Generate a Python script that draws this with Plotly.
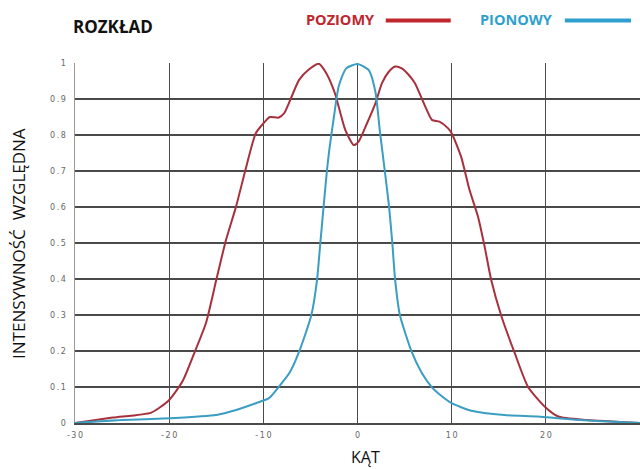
import plotly.graph_objects as go

# ---- data ----
red_x = [-30, -26, -21.9, -20, -18.6, -17.4, -16.1, -15.0, -14.0, -12.9, -11.9, -10.8, -10.0, -9.3,
         -8.4, -7.8, -7.1, -6.2, -5.2, -4.1, -3.3, -2.4, -1.3, -0.4, 0.1, 1.0, 1.9, 2.6, 3.3, 4.0,
         4.7, 5.4, 6.1, 7.2, 7.9, 8.7, 9.6, 10.0, 11.0, 11.9, 12.8, 13.5, 14.2, 15.3, 16.7, 18.1,
         19.9, 21.3, 24.4, 30]
red_y = [0, 0.015, 0.029, 0.064, 0.115, 0.19, 0.277, 0.397, 0.505, 0.601, 0.703, 0.805, 0.832, 0.85,
         0.848, 0.86, 0.9, 0.953, 0.981, 0.998, 0.971, 0.916, 0.814, 0.772, 0.781, 0.832, 0.888, 0.944, 0.975, 0.99,
         0.985, 0.968, 0.944, 0.879, 0.842, 0.837, 0.819, 0.805, 0.74, 0.647, 0.573, 0.49, 0.397, 0.295, 0.194, 0.101,
         0.045, 0.018, 0.008, 0.0]

blue_x = [-30, -25, -20, -15, -12.9, -10.8, -9.4, -8.4, -7.2, -6.2, -4.9, -4.3, -3.95, -3.6, -3.25, -3.0,
          -2.5, -2.0, -1.2, 0, 1.2, 1.9, 2.4, 2.9, 3.35, 3.7, 4.0, 4.5, 5.75, 6.8, 7.9, 8.6, 10, 12.1,
          15.6, 19.2, 21.3, 25, 30]
blue_y = [0, 0.008, 0.013, 0.022, 0.036, 0.055, 0.069, 0.099, 0.14, 0.198, 0.3, 0.397, 0.499, 0.601, 0.70, 0.758,
          0.851, 0.935, 0.985, 0.997, 0.98, 0.92, 0.805, 0.70, 0.601, 0.499, 0.397, 0.3, 0.198, 0.14, 0.099, 0.082, 0.055, 0.034,
          0.022, 0.018, 0.013, 0.006, 0.0]

x_ticks = [-30, -20, -10, 0, 10, 20, 30]
x_tick_labels = ["-30", "-20", "-10", "0", "10", "20", "30"]
y_ticks = [0, 0.1, 0.2, 0.3, 0.4, 0.5, 0.6, 0.7, 0.8, 0.9, 1]
y_tick_labels = ["0", "0.1", "0.2", "0.3", "0.4", "0.5", "0.6", "0.7", "0.8", "0.9", "1"]

title_text = "ROZKŁAD"
series_names = ["POZIOMY", "PIONOWY"]
x_title = "KĄT"
y_title = "INTENSYWNOŚĆ  WZGLĘDNA"

RED = "#a8303d"
BLUE = "#3a9dc2"
RED_TXT = "#c0272d"
BLUE_TXT = "#2f9fcf"


def spaced(s):
    return "\u2009".join(list(s))


fig = go.Figure()
fig.add_trace(go.Scatter(x=red_x, y=red_y, mode="lines", name=series_names[0],
                         line=dict(color=RED, width=2, shape="spline", smoothing=0.6),
                         showlegend=False))
fig.add_trace(go.Scatter(x=blue_x, y=blue_y, mode="lines", name=series_names[1],
                         line=dict(color=BLUE, width=2, shape="spline", smoothing=0.6),
                         showlegend=False))

tick_font = dict(family="DejaVu Sans", size=8, color="#666666")

fig.update_xaxes(range=[-30, 30], tickvals=x_ticks, ticktext=[spaced(t) for t in x_tick_labels],
                 showgrid=True, gridcolor="#4a4a4a", gridwidth=1.3, zeroline=False,
                 showline=True, linecolor="#4a4a4a", linewidth=1.5, ticks="", tickfont=tick_font,
                 ticklabelstandoff=4, fixedrange=True)
fig.update_yaxes(range=[0, 1], tickvals=y_ticks, ticktext=[spaced(t) for t in y_tick_labels],
                 showgrid=True, gridcolor="#4a4a4a", gridwidth=1.3, zeroline=False,
                 showline=True, linecolor="#999999", linewidth=1.5, ticks="", tickfont=tick_font,
                 ticklabelstandoff=6, fixedrange=True)

ann = []
ann.append(dict(text="<b>" + title_text + "</b>", xref="paper", yref="paper", x=-0.007, y=1.10,
                xanchor="left", yanchor="middle", showarrow=False,
                font=dict(family="Open Sans", size=17, color="#111111")))
ann.append(dict(text="<b>" + series_names[0] + "</b>", xref="paper", yref="paper", x=0.405, y=1.12,
                xanchor="left", yanchor="middle", showarrow=False,
                font=dict(family="Open Sans", size=14.5, color=RED_TXT)))
ann.append(dict(text="<b>" + series_names[1] + "</b>", xref="paper", yref="paper", x=0.713, y=1.12,
                xanchor="left", yanchor="middle", showarrow=False,
                font=dict(family="Open Sans", size=14.5, color=BLUE_TXT)))
ann.append(dict(text=x_title, xref="paper", yref="paper", x=0.515, y=-0.094,
                xanchor="center", yanchor="middle", showarrow=False,
                font=dict(family="Open Sans", size=16, color="#111111")))
ann.append(dict(text=y_title, xref="paper", yref="paper", x=-0.101, y=0.5, textangle=-90,
                xanchor="center", yanchor="middle", showarrow=False,
                font=dict(family="Open Sans", size=17, color="#111111")))

shapes = [
    dict(type="line", xref="paper", yref="paper", x0=0.550, x1=0.665, y0=1.118, y1=1.118,
         line=dict(color=RED_TXT, width=4)),
    dict(type="line", xref="paper", yref="paper", x0=0.867, x1=0.984, y0=1.118, y1=1.118,
         line=dict(color=BLUE_TXT, width=4)),
]

fig.update_layout(width=640, height=469, margin=dict(l=75, r=0, t=63, b=46),
                  paper_bgcolor="white", plot_bgcolor="white",
                  annotations=ann, shapes=shapes, showlegend=False)

fig.write_html("out.html", config={"displayModeBar": False, "staticPlot": True},
               post_script="document.body.style.margin='0px';document.body.style.overflow='hidden';")
